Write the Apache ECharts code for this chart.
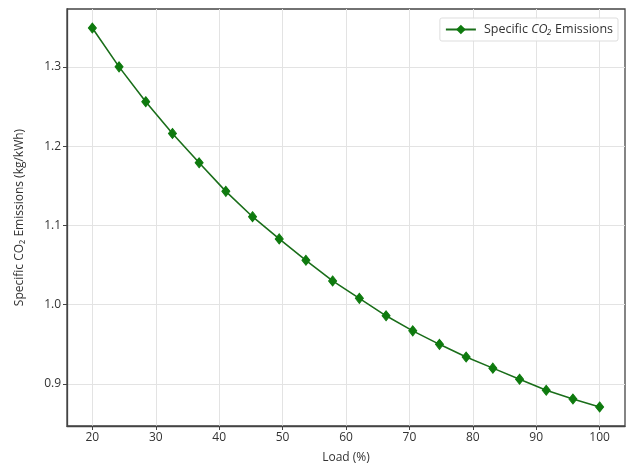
<!DOCTYPE html>
<html>
<head>
<meta charset="utf-8">
<script src="https://cdn.jsdelivr.net/npm/echarts@6/dist/echarts.min.js"></script>
<style>html,body{margin:0;padding:0;background:#fff;}#c{width:632px;height:466px;}</style>
</head>
<body>
<div id="c"></div>
<script>
const loadPct = [20, 24.21, 28.42, 32.63, 36.84, 41.05, 45.26, 49.47, 53.68, 57.89, 62.11, 66.32, 70.53, 74.74, 78.95, 83.16, 87.37, 91.58, 95.79, 100];
const emissions = [1.349, 1.300, 1.256, 1.216, 1.179, 1.143, 1.111, 1.083, 1.056, 1.030, 1.008, 0.986, 0.967, 0.950, 0.934, 0.920, 0.906, 0.892, 0.881, 0.871];
const xTicks = [20, 30, 40, 50, 60, 70, 80, 90, 100];
const yTicks = [0.9, 1.0, 1.1, 1.2, 1.3];

const font = '"Open Sans", "DejaVu Sans", sans-serif';
const chart = echarts.init(document.getElementById('c'), null, {renderer: 'canvas'});
chart.setOption({
  animation: false,
  backgroundColor: '#fff',
  textStyle: {fontFamily: font},
  grid: {left: 67, top: 9, right: 7, bottom: 40, show: true, borderColor: '#444', borderWidth: 1.3, containLabel: false, outerBoundsMode: 'none'},
  legend: {
    right: 14, top: 18,
    padding: [5, 5, 5, 5],
    borderColor: '#ddd', borderWidth: 1, borderRadius: 2,
    backgroundColor: 'rgba(255,255,255,0.85)',
    itemWidth: 30, itemHeight: 12, itemGap: 6,
    data: [{name: 'Specific CO2 Emissions'}],
    formatter: () => 'Specific {i|CO₂} Emissions',
    textStyle: {fontFamily: font, fontSize: 12.5, color: '#333', padding: [0, 0, 0, 3], rich: {i: {fontStyle: 'italic', fontSize: 12.5, color: '#333', fontFamily: font}}}
  },
  xAxis: {
    type: 'value', min: 16, max: 104,
    name: 'Load (%)', nameLocation: 'middle', nameGap: 26,
    nameTextStyle: {fontFamily: font, fontSize: 12, color: '#333'},
    axisLine: {show: true, lineStyle: {color: '#444', width: 1.3}},
    axisTick: {show: true, length: 4, lineStyle: {color: '#444'}, customValues: xTicks},
    axisLabel: {fontFamily: font, fontSize: 12, color: '#333', margin: 6, customValues: xTicks},
    splitLine: {show: true, lineStyle: {color: '#e3e3e3', width: 1}}
  },
  yAxis: {
    type: 'value', min: 0.847, max: 1.373,
    name: 'Specific CO₂ Emissions (kg/kWh)', nameLocation: 'middle', nameGap: 41,
    nameTextStyle: {fontFamily: font, fontSize: 12, color: '#333'},
    axisLine: {show: true, lineStyle: {color: '#444', width: 1.3}},
    axisTick: {show: true, length: 4, lineStyle: {color: '#444'}, customValues: yTicks},
    axisLabel: {fontFamily: font, fontSize: 12, color: '#333', margin: 6, customValues: yTicks, formatter: v => v.toFixed(1)},
    splitLine: {show: true, lineStyle: {color: '#e3e3e3', width: 1}}
  },
  series: [{
    name: 'Specific CO2 Emissions',
    type: 'line',
    data: loadPct.map((x, i) => [x, emissions[i]]),
    symbol: 'diamond', symbolSize: [8, 10],
    showAllSymbol: true,
    lineStyle: {color: '#1a6e1a', width: 1.6},
    itemStyle: {color: '#0e7a0e', borderColor: '#0e7a0e'}
  }]
});
</script>
</body>
</html>
